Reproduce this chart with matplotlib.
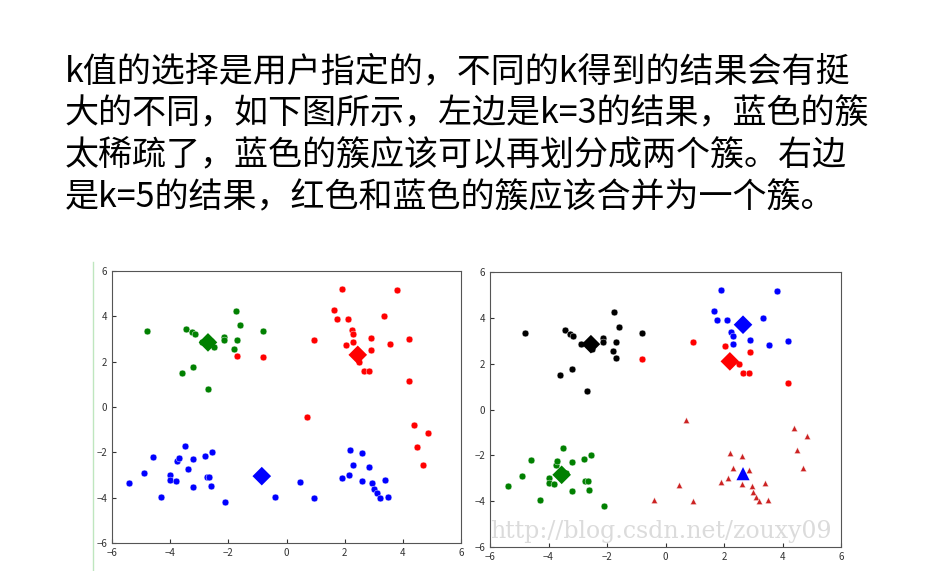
import matplotlib.pyplot as plt

plt.rcParams['font.family'] = ['Noto Sans CJK SC', 'DejaVu Sans']

lines = [
    "k值的选择是用户指定的，不同的k得到的结果会有挺",
    "大的不同，如下图所示，左边是k=3的结果，蓝色的簇",
    "太稀疏了，蓝色的簇应该可以再划分成两个簇。右边",
    "是k=5的结果，红色和蓝色的簇应该合并为一个簇。",
]

# upper-left group
g_ul = [(-4.8, 3.35), (-3.45, 3.45), (-3.25, 3.3), (-3.15, 3.2), (-2.9, 2.85), (-2.6, 2.9),
        (-2.5, 2.65), (-2.15, 3.1), (-2.15, 2.95), (-1.75, 4.25), (-1.6, 3.6), (-1.7, 2.95),
        (-1.8, 2.55), (-3.6, 1.5), (-3.2, 1.75), (-2.7, 0.8)]
g_mid = [(-1.7, 2.25), (-0.8, 3.35)]
g_red5 = [(-0.8, 2.2), (0.95, 2.95), (2.05, 2.75), (2.5, 2.0), (2.65, 1.6), (2.85, 1.6),
          (2.9, 2.5), (4.2, 1.15)]
g_blue5 = [(1.65, 4.3), (1.75, 3.9), (1.9, 5.2), (2.1, 3.9), (2.25, 3.4), (2.3, 3.2),
           (2.3, 2.85), (2.9, 3.05), (3.35, 4.0), (3.8, 5.15), (3.55, 2.8), (4.2, 3.0)]
g_lr = [(0.7, -0.45), (4.4, -0.8), (4.85, -1.15), (4.5, -1.75), (4.7, -2.55),
        (-0.4, -3.95), (0.45, -3.3), (0.95, -4.0), (1.9, -3.15), (2.15, -3.0), (2.2, -1.9),
        (2.3, -2.55), (2.6, -2.05), (2.6, -3.25), (2.85, -2.65), (2.95, -3.35), (3.0, -3.6),
        (3.1, -3.8), (3.2, -4.0), (3.4, -3.2), (3.5, -3.95)]
g_ll = [(-5.4, -3.35), (-4.9, -2.9), (-4.6, -2.2), (-4.3, -3.95), (-4.0, -3.0), (-4.0, -3.2),
        (-3.8, -3.25), (-3.75, -2.4), (-3.7, -2.25), (-3.5, -1.7), (-3.4, -2.75), (-3.2, -2.3),
        (-3.2, -3.55), (-2.8, -2.15), (-2.75, -3.1), (-2.65, -3.1), (-2.55, -2.0), (-2.6, -3.5),
        (-2.1, -4.2)]

# k=3
left_sets = [
    (g_ul + g_mid[1:], 'green', 'o'),
    (g_mid[:1] + g_red5 + g_blue5 + g_lr[:5], 'red', 'o'),
    (g_ll + g_lr[5:], 'blue', 'o'),
]
left_cent = [((-2.7, 2.85), 'green'), ((2.45, 2.3), 'red'), ((-0.85, -3.05), 'blue')]

# k=5
right_sets = [
    (g_ul + g_mid, 'black', 'o'),
    (g_red5, 'red', 'o'),
    (g_blue5, 'blue', 'o'),
    (g_ll, 'green', 'o'),
    (g_lr, '#cc2222', '^'),
]
right_cent = [((-2.55, 2.85), 'black', 'D'), ((2.65, 3.7), 'blue', 'D'), ((2.2, 2.1), 'red', 'D'),
              ((-3.55, -2.85), 'green', 'D'), ((2.65, -2.8), 'blue', '^')]

fig = plt.figure(figsize=(9.28, 5.71), dpi=100)
for i, t in enumerate(lines):
    fig.text(65 / 928, 1 - (72 + i * 42) / 571, t, fontsize=24.5, va='center', ha='left')

fig.add_artist(plt.Line2D([93 / 928, 93 / 928], [0, 1 - 262 / 571], color='#bfe6bf', lw=1))

ax1 = fig.add_axes([112 / 928, 1 - 543 / 571, 349 / 928, 272 / 571])
ax2 = fig.add_axes([490 / 928, 1 - 547 / 571, 351 / 928, 275 / 571])

def draw(ax, sets, cents):
    for pts, c, m in sets:
        xs = [p[0] for p in pts]
        ys = [p[1] for p in pts]
        ax.scatter(xs, ys, c=c, marker=m, s=24 if m == 'o' else 20, edgecolors='white',
                   linewidths=0.3, zorder=2)
    for item in cents:
        (x, y), c = item[0], item[1]
        m = item[2] if len(item) > 2 else 'D'
        ax.scatter([x], [y], c=c, marker=m, s=90, edgecolors='none', zorder=3)
    ax.set_xlim(-6, 6)
    ax.set_ylim(-6, 6)
    ax.set_xticks(range(-6, 7, 2))
    ax.set_yticks(range(-6, 7, 2))
    ax.set_xticklabels(['\u22126', '\u22124', '\u22122', '0', '2', '4', '6'])
    ax.set_yticklabels(['\u22126', '\u22124', '\u22122', '0', '2', '4', '6'])
    ax.tick_params(labelsize=7, direction='in', length=3, colors='#333333')
    for s in ax.spines.values():
        s.set_color('#555555')

draw(ax1, left_sets, left_cent)
draw(ax2, right_sets, right_cent)
ax2.text(-6, -5.6, "http://blog.csdn.net/zouxy09", fontsize=17, family='DejaVu Serif',
         color='#cccccc', alpha=0.7, zorder=4)

fig.savefig('out.png', dpi=100)
